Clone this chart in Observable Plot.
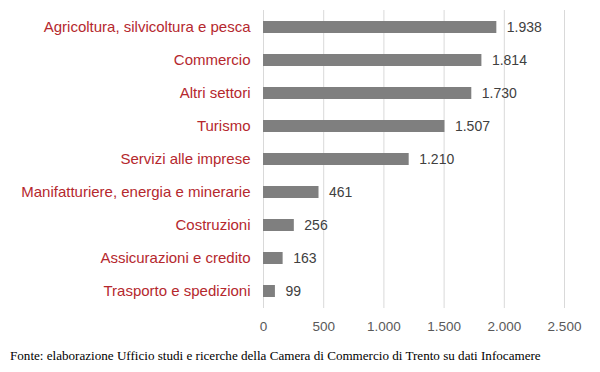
<!DOCTYPE html>
<html><head><meta charset="utf-8">
<script src="https://cdn.jsdelivr.net/npm/d3@7"></script>
<script src="https://cdn.jsdelivr.net/npm/@observablehq/plot@0.6"></script>
<style>
body{margin:0;background:#fff;}
#cap{font-family:"Liberation Serif","Times New Roman",serif;font-size:13.1px;color:#000;margin:8px 0 0 10px;white-space:nowrap;}
</style>
</head><body>
<div id="chart"></div>
<div id="cap">Fonte: elaborazione Ufficio studi e ricerche della Camera di Commercio di Trento su dati Infocamere</div>
<script>
const categories = ["Agricoltura, silvicoltura e pesca","Commercio","Altri settori","Turismo","Servizi alle imprese","Manifatturiere, energia e minerarie","Costruzioni","Assicurazioni e credito","Trasporto e spedizioni"];
const values = [1938,1814,1730,1507,1210,461,256,163,99];
const xTicks = [0,500,1000,1500,2000,2500];
const data = categories.map((c,i)=>({cat:c, v:values[i]}));
const fmt = d3.formatLocale({decimal:",",thousands:".",grouping:[3],currency:["€",""]}).format(",d");
const chart = Plot.plot({
  width:600, height:340,
  marginLeft:263, marginRight:36, marginTop:10, marginBottom:32,
  style:{fontFamily:"'Liberation Sans', Arial, sans-serif", fontSize:"13px", background:"#fff"},
  x:{domain:[0,2500], ticks:xTicks, tickFormat:fmt, label:null},
  y:{domain:categories, paddingInner:0.64, paddingOuter:0.33, label:null},
  marks:[
    Plot.ruleX(xTicks,{stroke:"#d9d9d9", strokeWidth:1, strokeOpacity:1}),
    Plot.barX(data,{y:"cat", x:"v", fill:"#7f7f7f"}),
    Plot.text(data,{y:"cat", x:"v", text:d=>fmt(d.v), dx:10, textAnchor:"start", fill:"#404040", fontSize:14}),
    Plot.axisX({ticks:xTicks, tickFormat:fmt, tickSize:0, tickPadding:13, fill:"#595959", fontSize:13.5, label:null}),
    Plot.axisY({tickSize:0, tickPadding:13, fill:"#b5282e", fontSize:15, label:null})
  ]
});
document.getElementById("chart").appendChild(chart);
</script>
</body></html>
